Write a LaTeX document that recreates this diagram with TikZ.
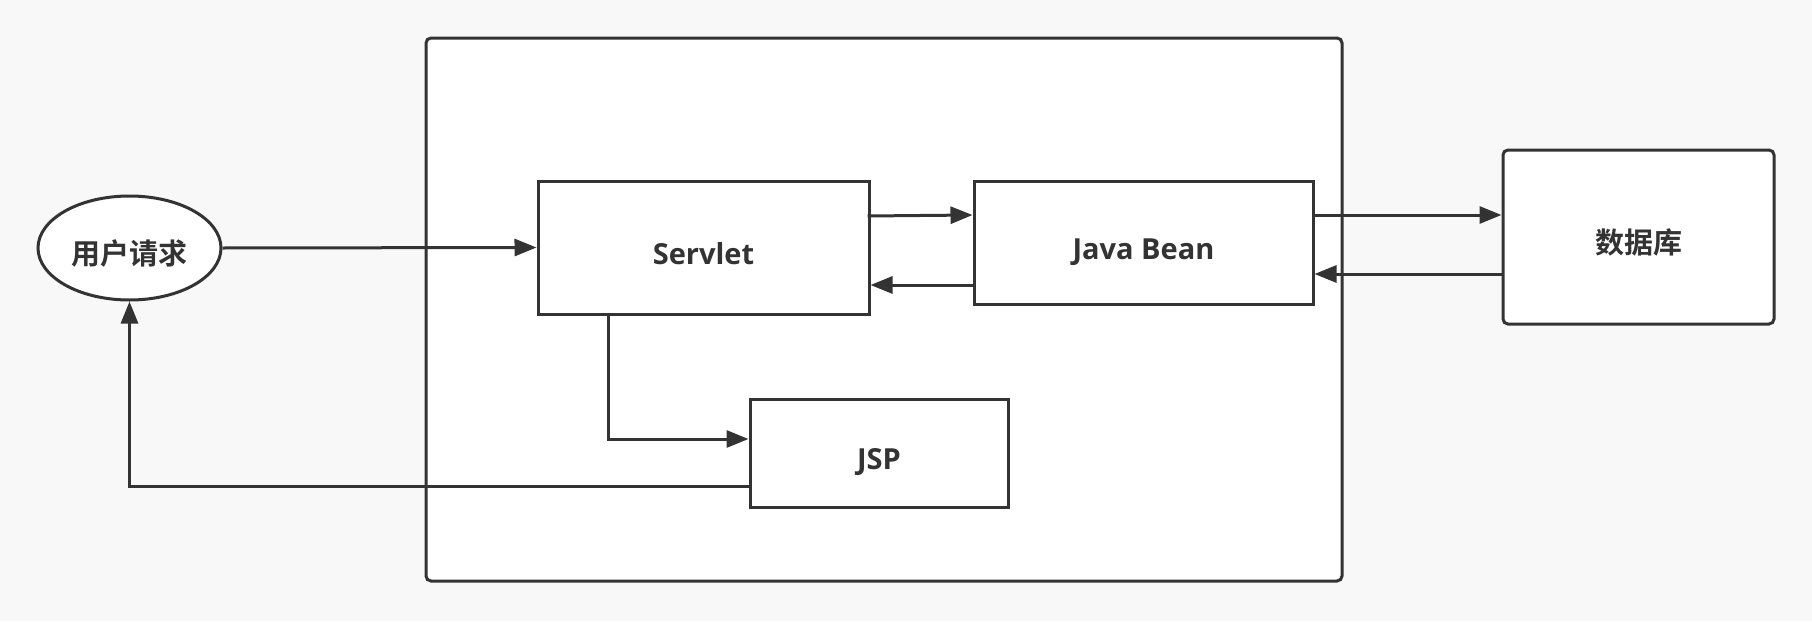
\documentclass[tikz,border=0pt]{standalone}
\usepackage{fontspec}
\setmainfont{Open Sans}
\newfontfamily\cjk{Noto Sans CJK SC}[BoldFont={Noto Sans CJK SC Bold}]
\usetikzlibrary{arrows.meta,shapes.geometric}
\definecolor{ink}{HTML}{333333}
\definecolor{bg}{HTML}{F8F8F8}
\begin{document}
\begin{tikzpicture}[x=1pt,y=-1pt,
  line width=3pt, draw=ink,
  lbl/.style={font=\bfseries\fontsize{29}{33}\selectfont, text=ink, text height=33pt, text depth=0pt},
  box/.style={draw=ink, fill=white, line width=3pt, inner sep=0pt, lbl},
  arr/.style={draw=ink, line width=3pt, -{Triangle[length=22pt,width=17pt]}},
  ln/.style={draw=ink, line width=3pt}]
\fill[bg] (0,0) rectangle (1812,621);
\useasboundingbox (0,0) rectangle (1812,621);
\node[box, rounded corners=5pt, minimum width=916pt, minimum height=543pt] (frame) at (884,309.5) {};
\node[box, ellipse, minimum width=183pt, minimum height=104pt] (req) at (129.5,248) {\cjk 用户请求};
\node[box, minimum width=331pt, minimum height=133pt] (servlet) at (703.5,247.5) {Servlet};
\node[box, minimum width=339pt, minimum height=123pt] (bean) at (1143.5,242.5) {Java Bean};
\node[box, rounded corners=5pt, minimum width=271pt, minimum height=174pt] (db) at (1638.5,237) {\cjk 数据库};
\node[box, minimum width=258pt, minimum height=108pt] (jsp) at (879,453) {JSP};
\draw[arr] (req.east) -- (servlet.west);
\draw[arr] ([yshift=31.5pt,xshift=-3pt]servlet.east) -- ([yshift=27.5pt]bean.west);
\draw[arr] ([yshift=-42.5pt]bean.west) -- ([yshift=-37.5pt]servlet.east);
\draw[arr] ([yshift=27.5pt]bean.east) -- ([yshift=22pt]db.west);
\draw[arr] ([yshift=-37pt]db.west) -- ([yshift=-31.5pt]bean.east);
\draw[arr] ([xshift=-95.5pt]servlet.south) |- ([yshift=14pt]jsp.west);
\draw[arr] ([yshift=-33pt]jsp.west) -| (req.south);
\end{tikzpicture}
\end{document}
